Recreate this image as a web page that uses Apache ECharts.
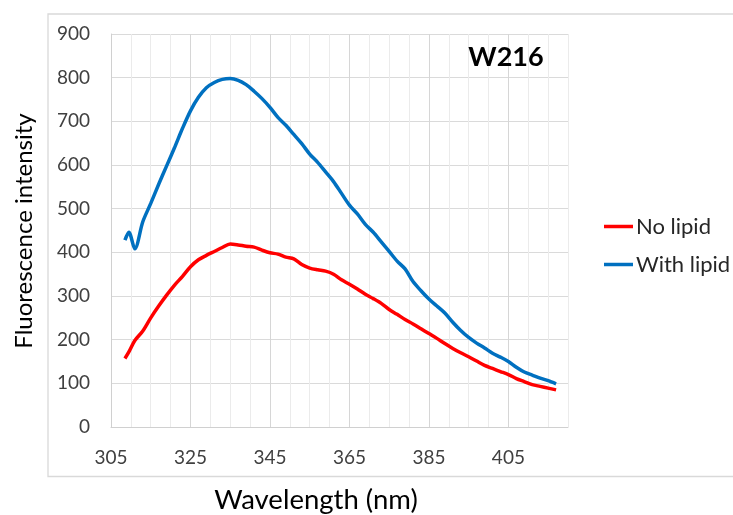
<!DOCTYPE html>
<html>
<head>
<meta charset="utf-8">
<script src="https://cdn.jsdelivr.net/npm/echarts@6/dist/echarts.min.js"></script>
<style>
  html, body { margin: 0; padding: 0; background: #fff; }
  #chart { width: 733px; height: 515px; }
</style>
</head>
<body>
<div id="chart"></div>
<script>
// Emission wavelengths (nm)
const wavelengths = [308.5, 309.5, 311, 313, 315, 317, 319, 321, 323, 325, 327, 329, 331, 333, 335, 337, 339,
  341, 343, 345, 347, 349, 351, 353, 355, 357, 359, 361, 363, 365, 367, 369, 371, 373, 375, 377, 379,
  381, 383, 385, 387, 389, 391, 393, 395, 397, 399, 401, 403, 405, 407, 409, 411, 413, 415, 417];

// Fluorescence intensity without lipid
const noLipid = [157, 172, 198, 220, 250, 277, 302, 325, 345, 367, 383, 393, 402, 411, 419, 417, 414,
  412, 405, 399, 396, 389, 385, 372, 364, 360, 357, 350, 337, 327, 316, 304, 294, 283, 269, 258, 246,
  236, 225, 214, 203, 191, 180, 170, 161, 151, 141, 134, 127, 120, 111, 104, 97, 93, 89, 85];

// Fluorescence intensity with lipid
const withLipid = [428, 446, 408, 470, 512, 556, 598, 640, 684, 724, 755, 777, 789, 796, 798, 794, 784,
  769, 752, 732, 709, 691, 670, 649, 625, 606, 584, 562, 535, 508, 488, 464, 446, 424, 402, 380, 362,
  333, 312, 293, 277, 261, 240, 221, 205, 192, 181, 169, 160, 150, 137, 126, 119, 112, 106, 99];

const seriesNames = ['No lipid', 'With lipid'];
const panelLabel = 'W216';
const xTitle = 'Wavelength (nm)';
const yTitle = 'Fluorescence intensity';

const FONT = 'Lato, "Open Sans", sans-serif';
const pairs = (ys) => wavelengths.map((x, i) => [x, ys[i]]);

const chart = echarts.init(document.getElementById('chart'), null, { renderer: 'canvas' });
chart.setOption({
  backgroundColor: '#ffffff',
  animation: false,
  grid: { left: 111, top: 34, width: 457, height: 393, containLabel: false },
  xAxis: {
    type: 'value', min: 305, max: 420, interval: 5,
    axisLine: { show: true, lineStyle: { color: '#d0d0d0', width: 1 } },
    axisTick: { show: false },
    axisLabel: {
      margin: 21, color: '#404040', fontSize: 19, fontFamily: FONT,
      showMaxLabel: false,
      formatter: (v) => ((v - 305) % 20 === 0 ? String(v) : '')
    },
    splitLine: { show: true, lineStyle: { color: ['#d6d6d6', '#ebebeb', '#ebebeb', '#ebebeb'], width: 1 } }
  },
  yAxis: {
    type: 'value', min: 0, max: 900, interval: 100,
    axisLine: { show: true, lineStyle: { color: '#d0d0d0', width: 1 } },
    axisTick: { show: false },
    axisLabel: { margin: 21, color: '#404040', fontSize: 19, fontFamily: FONT },
    splitLine: { show: true, lineStyle: { color: '#dadada', width: 1 } }
  },
  legend: {
    orient: 'vertical', left: 604, top: 215, padding: 0,
    icon: 'rect', itemWidth: 29, itemHeight: 3.5, itemGap: 15,
    textStyle: { fontSize: 22, lineHeight: 23, color: '#262626', fontFamily: FONT, padding: [0, 0, 0, -2] },
    data: seriesNames
  },
  series: [
    {
      name: seriesNames[0], type: 'line', data: pairs(noLipid),
      showSymbol: false, smooth: 0.3,
      lineStyle: { color: '#ff0000', width: 3.5 }, itemStyle: { color: '#ff0000' }
    },
    {
      name: seriesNames[1], type: 'line', data: pairs(withLipid),
      showSymbol: false, smooth: 0.3,
      lineStyle: { color: '#0070c0', width: 3.5 }, itemStyle: { color: '#0070c0' }
    }
  ],
  graphic: [
    { type: 'rect', silent: true, z: -1,
      shape: { x: 48, y: 14, width: 760, height: 462.5 },
      style: { fill: 'none', stroke: '#d9d9d9', lineWidth: 1.3 } },
    { type: 'text', x: 506, y: 57, z: 100,
      style: { text: panelLabel, font: 'bold 27px ' + FONT, fill: '#000', align: 'center', verticalAlign: 'middle' } },
    { type: 'text', x: 316, y: 500, z: 100,
      style: { text: xTitle, font: '27.5px ' + FONT, fill: '#000', align: 'center', verticalAlign: 'middle' } },
    { type: 'text', x: 24, y: 231, rotation: Math.PI / 2, z: 100,
      style: { text: yTitle, font: '24px ' + FONT, fill: '#000', align: 'center', verticalAlign: 'middle' } }
  ]
});
</script>
</body>
</html>
